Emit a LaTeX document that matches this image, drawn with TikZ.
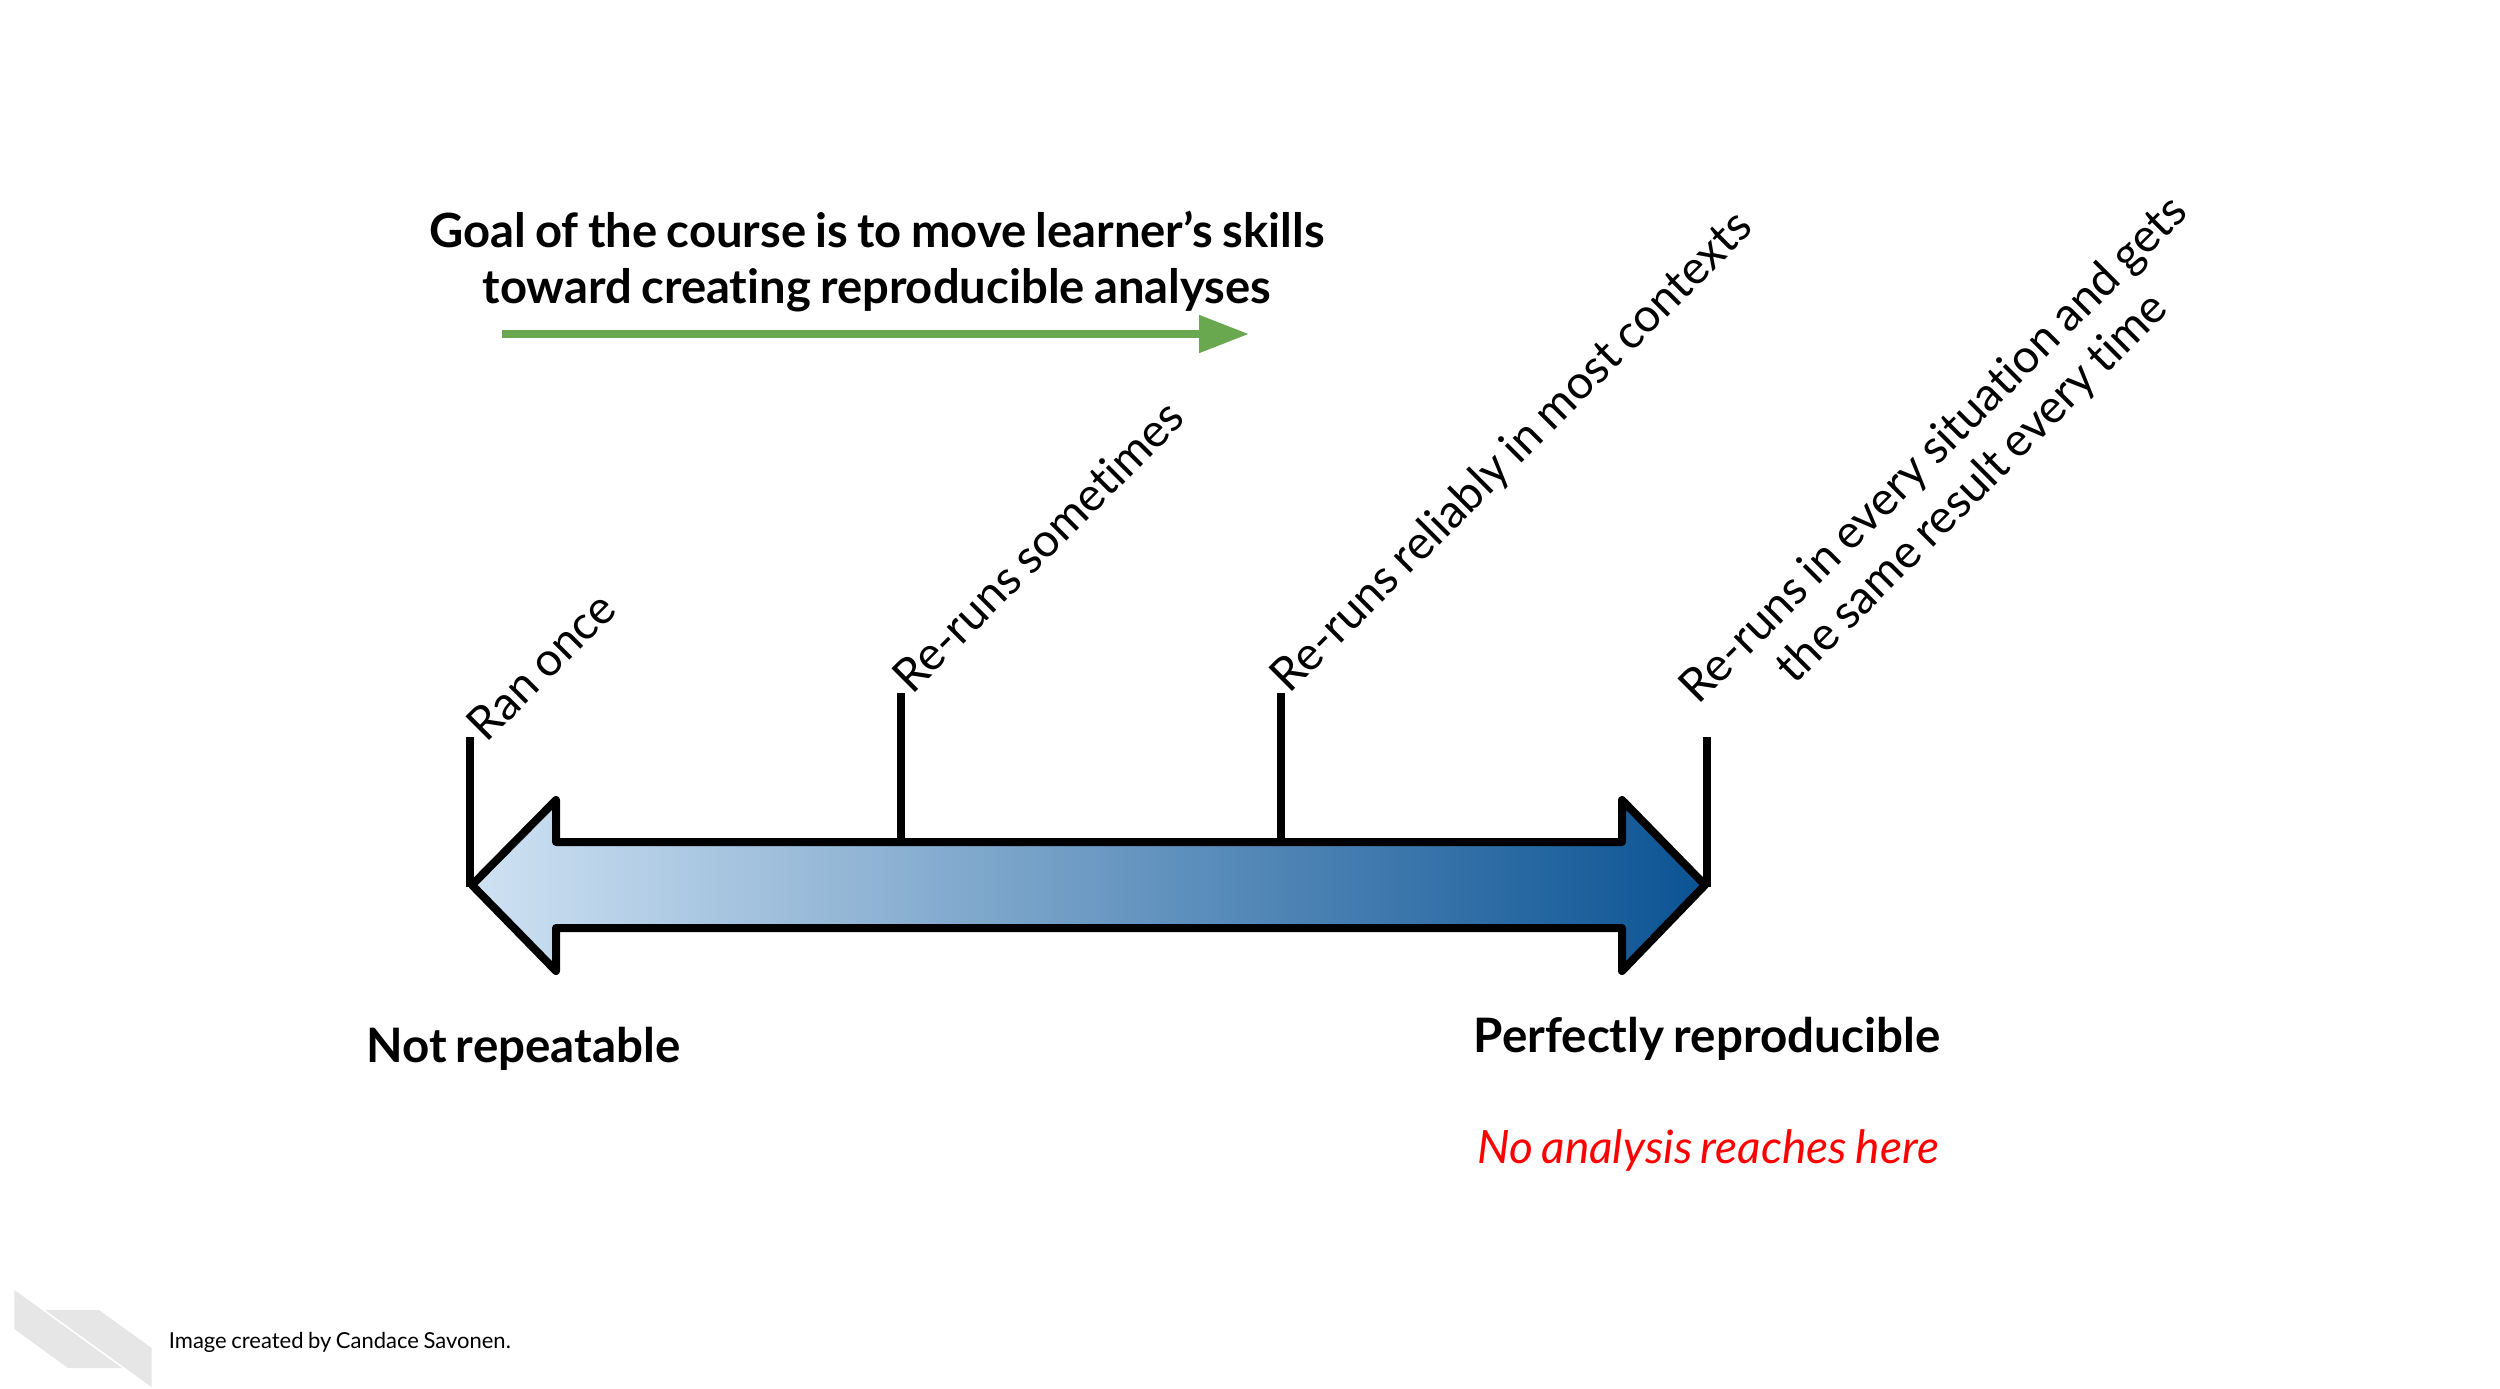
\documentclass[tikz,border=0pt]{standalone}
\usepackage{fontspec}
\setmainfont{Lato}[Ligatures=CommonOff,WordSpace={0.8}]
\usetikzlibrary{arrows.meta}
\definecolor{gstart}{HTML}{CFE2F3}
\definecolor{gend}{HTML}{0B5394}
\definecolor{garrow}{HTML}{6AA84F}
\definecolor{logogray}{HTML}{E6E6E6}
\tikzset{
  tick/.style={line width=4pt,black,line cap=butt},
  rotlabel/.style={rotate=45,anchor=center,align=center,font=\fontsize{23.3}{27}\selectfont},
  boldlabel/.style={anchor=center,align=center,font=\fontsize{23.75}{28}\selectfont\bfseries},
}
\begin{document}
\begin{tikzpicture}[x=0.5pt,y=-0.5pt]
\useasboundingbox (0,0) rectangle (2500,1388);
\fill[logogray] (14.4,1290) -- (14.4,1329) -- (68,1368) -- (122,1368) -- cycle;
\fill[logogray] (45,1310) -- (99,1310) -- (151.5,1348) -- (151.5,1387) -- cycle;
\node[anchor=west,inner sep=0pt,font=\fontsize{11}{14}\selectfont] (credit) at (168.5,1342) {Image created by Candace Savonen.};
\node[boldlabel,font=\fontsize{23.6}{28}\selectfont\bfseries] (goal) at (877,262) {Goal of the course is to move learner’s skills\\toward creating reproducible analyses};
\coordinate (gs) at (502,334);
\coordinate (ge) at (1249,334);
\draw[line width=4pt,garrow,-{Triangle[length=25pt,width=18pt]}] (gs) -- (ge);
\path[draw=black,line width=4pt,line join=round,left color=gstart,right color=gend]
  (472,885) -- (556,800) -- (556,842) -- (1622,842) -- (1622,800) -- (1705,885) -- (1622,971) -- (1622,928) -- (556,928) -- (556,971) -- cycle;
\coordinate (t1a) at (470,737); \coordinate (t1b) at (470,887);
\coordinate (t2a) at (901,693); \coordinate (t2b) at (901,845);
\coordinate (t3a) at (1281,693); \coordinate (t3b) at (1281,845);
\coordinate (t4a) at (1707,737); \coordinate (t4b) at (1707,887);
\draw[tick] (t1a) -- (t1b);
\draw[tick] (t2a) -- (t2b);
\draw[tick] (t3a) -- (t3b);
\draw[tick] (t4a) -- (t4b);
\node[rotlabel] (l1) at (541,666) {Ran once};
\node[rotlabel] (l2) at (1037.6,546) {Re-runs sometimes};
\node[rotlabel] (l3) at (1513,453) {Re-runs reliably in most contexts};
\node[rotlabel] (l4) at (1954,470) {Re-runs in every situation and gets\\the same result every time};
\node[boldlabel] (nr) at (523.4,1049) {Not repeatable};
\node[boldlabel] (pr) at (1707,1039) {Perfectly reproducible};
\node[anchor=center,text=red,font=\fontsize{23}{28}\selectfont\itshape] (na) at (1708,1150) {No analysis reaches here};
\end{tikzpicture}
\end{document}
